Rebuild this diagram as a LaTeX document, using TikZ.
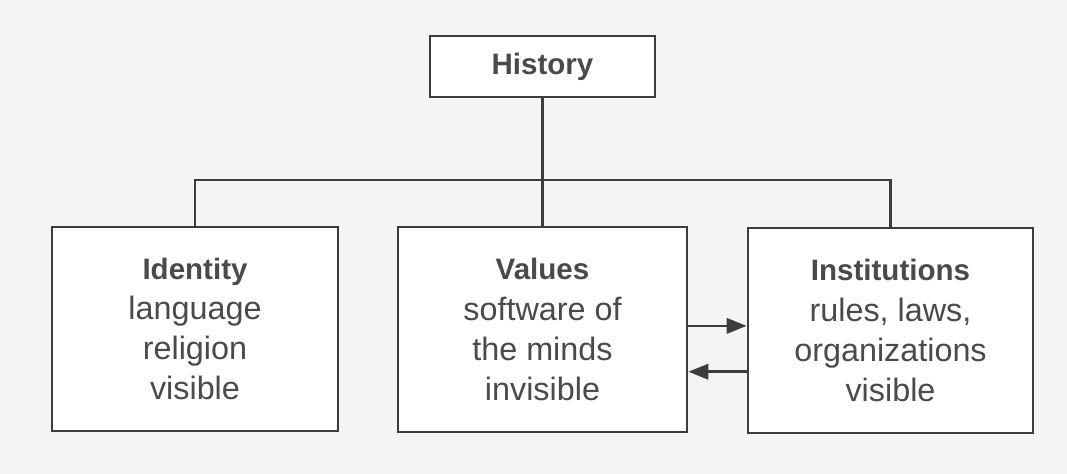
\documentclass[tikz,border=0pt]{standalone}
\usepackage{fontspec}
\setmainfont{Liberation Sans}
\usepackage{xcolor}
\usepackage{tikz}
\usetikzlibrary{
  arrows.meta,
  positioning,
  calc
}

\definecolor{ink}{HTML}{3C3C3C}
\definecolor{txt}{HTML}{4A4A4A}
\definecolor{paper}{HTML}{F4F4F3}

\begin{document}
\begin{tikzpicture}[
    x=0.025cm, y=0.025cm,
    line width=1.9pt, draw=ink,
    box/.style={draw=ink, fill=white, inner sep=0pt, align=center,
                text=txt, font=\fontsize{23}{28.5}\selectfont},
    arr/.style={draw=ink, -{Triangle[length=0.5cm, width=0.38cm]}},
  ]

  % Page
  \fill[paper] (0,0) rectangle (1067,-474);
  \useasboundingbox (0,0) rectangle (1067,-474);

  % Top box
  \node[box, minimum width=5.62cm, minimum height=1.52cm,
        font=\fontsize{21}{28.5}\selectfont\bfseries]
    (history) at (542.5,-66.5) {History};

  % Three columns
  \node[box, minimum width=7.15cm, minimum height=5.1cm]
    (identity) at (195,-329)
    {{\fontsize{21}{28.5}\selectfont\bfseries Identity}\\language\\religion\\visible};
  \node[box, minimum width=7.22cm, minimum height=5.12cm]
    (values) at (542.5,-329.5)
    {{\fontsize{21}{28.5}\selectfont\bfseries Values}\\software of\\the minds\\invisible};
  \node[box, minimum width=7.12cm, minimum height=5.12cm]
    (institutions) at (890.5,-330.5)
    {{\fontsize{21}{28.5}\selectfont\bfseries Institutions}\\rules, laws,\\organizations\\visible};

  % Tree lines
  \coordinate (bus) at (542.5,-180);
  \draw (history.south) -- (values.north);
  \draw (identity.north) |- (bus) -| (institutions.north);

  % Feedback arrows
  \coordinate (vout) at ([yshift=0.09cm]values.east);
  \coordinate (iout) at ([yshift=-1.03cm]institutions.west);
  \draw[arr] (vout) -- (vout -| institutions.west);
  \draw[arr] (iout) -- (iout -| values.east);

\end{tikzpicture}
\end{document}
